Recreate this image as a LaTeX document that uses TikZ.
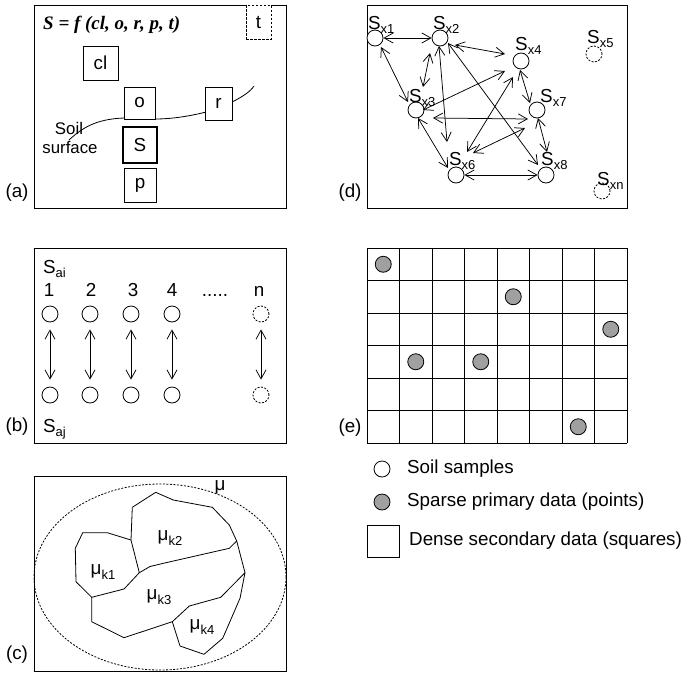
\documentclass[tikz,border=0pt]{standalone}
\usepackage{fontspec}
\setmainfont{Liberation Sans}
\newfontfamily\frmfont{Liberation Serif}
\usetikzlibrary{arrows.meta,calc}
\newcommand{\sbs}[1]{\raisebox{-0.45ex}{\fontsize{13}{13}\selectfont #1}}
\definecolor{dotgray}{RGB}{160,160,160}
\tikzset{
  txt/.style={font=\fontsize{18.8}{21}\selectfont, inner sep=0pt},
  small/.style={font=\fontsize{16.8}{18}\selectfont, inner sep=0pt},
  frame/.style={draw, line width=1pt},
  bx/.style={draw, fill=white, line width=0.9pt, inner sep=0pt, font=\fontsize{18.8}{21}\selectfont},
  smp/.style={circle, draw, fill=white, minimum size=16pt, inner sep=0pt, line width=0.8pt},
  dsmp/.style={smp, dashed, dash pattern=on 2pt off 1.5pt},
  gdot/.style={circle, draw, fill=dotgray, minimum size=16pt, inner sep=0pt, line width=0.8pt},
  dar/.style={{Straight Barb[length=9pt,width=10pt]}-{Straight Barb[length=9pt,width=10pt]}, line width=0.75pt},
  thinl/.style={line width=0.8pt},
}
\begin{document}
\begin{tikzpicture}[x=1pt,y=-1pt]
\useasboundingbox (0,0) rectangle (684,672);

% ---------------- panel (a)
\draw[frame] (34,5) rectangle (286,208);
\node[txt] (la) at (17,193) {(a)};
\node[inner sep=0pt, anchor=west, font=\frmfont\bfseries\itshape\fontsize{19}{21}\selectfont] (frm) at (43,25) {S = f (cl, o, r, p, t)};
\draw[thinl] (69,140) .. controls (85,125) and (100,119) .. (124,118) -- (155,119) .. controls (175,119) and (195,115) .. (210,111) -- (232,102) .. controls (242,97) and (250,92) .. (254,86);
\node[bx, minimum width=25pt, minimum height=34pt, dashed, dash pattern=on 2.5pt off 1.5pt] (t) at (258.5,22) {t};
\node[bx, minimum width=35pt, minimum height=34pt] (cl) at (100.5,63) {cl};
\node[bx, minimum width=31pt, minimum height=32pt] (o) at (139.5,103) {o};
\node[bx, minimum width=27pt, minimum height=33pt] (r) at (218.5,103.5) {r};
\node[bx, minimum width=34pt, minimum height=36pt, line width=2.8pt] (S) at (140,145) {S};
\node[bx, minimum width=32pt, minimum height=34pt] (p) at (140,185) {p};
\node[small] (soil) at (69,128) {Soil};
\node[small] (surf) at (70,147) {surface};

% ---------------- panel (b)
\draw[frame] (34,248) rectangle (286,443);
\node[txt] (lb) at (17,427) {(b)};
\node[txt, anchor=base west] (sai) at (43,273) {S\sbs{ai}};
\node[txt, anchor=base west] (saj) at (43,432) {S\sbs{aj}};
\node[txt, anchor=base] (n1) at (49,296) {1};
\node[txt, anchor=base] (n2) at (91,296) {2};
\node[txt, anchor=base] (n3) at (133,296) {3};
\node[txt, anchor=base] (n4) at (172,296) {4};
\node[txt, anchor=base] (ndots) at (215,296) {.....};
\node[txt, anchor=base] (nn) at (259,296) {n};
\foreach \i/\x in {1/50,2/90,3/131,4/172}{
  \node[smp] (t\i) at (\x,314) {};
  \node[smp] (b\i) at (\x,395) {};
  \draw[dar, shorten <=7pt, shorten >=7pt] (t\i) -- (b\i);
}
\node[dsmp] (tn) at (261,314) {};
\node[dsmp] (bn) at (261,395) {};
\draw[dar, shorten <=7pt, shorten >=7pt] (tn) -- (bn);

% ---------------- panel (c)
\draw[frame] (34,476) rectangle (286,671);
\node[txt] (lc) at (17,655) {(c)};
\draw[thinl, dashed, dash pattern=on 2pt off 1.5pt] (160,577) ellipse [x radius=126pt, y radius=93pt];
\node[txt] (mu) at (220,487) {μ};
\draw[thinl, line join=round] (132.3,507.3) -- (155.7,492.3) -- (173.3,500) -- (212.3,507.3) -- (229.3,525) -- (236.7,541) -- (245,572.7) -- (240,598.3) -- (222.7,638.3) -- (204,654.3) -- (180,646) -- (172.3,621.7) -- (124,637.7) -- (91.7,621.7) -- (91.7,597.3) -- (76,581.7) -- (75.3,548.3) -- (82.7,532.7) -- (107.3,532.7) -- (131,540);
\draw[thinl, line join=round] (132.3,507.3) -- (131,540) -- (139.3,572.7) -- (124,589) -- (91.7,597.3);
\draw[thinl, line join=round] (139.3,572.7) -- (150,566.5) -- (163.3,563.3) -- (229.3,548.3) -- (236.7,541);
\draw[thinl, line join=round] (172.3,621.7) -- (189.3,606) -- (220.7,597.3) -- (245,572.7);
\node[txt] (mk2) at (170,538) {μ\sbs{k2}};
\node[txt] (mk1) at (103,572) {μ\sbs{k1}};
\node[txt] (mk3) at (159,597) {μ\sbs{k3}};
\node[txt] (mk4) at (202,627) {μ\sbs{k4}};

% ---------------- panel (d)
\draw[frame] (367,5) rectangle (627,208);
\node[txt] (ld) at (350,193) {(d)};
\node[smp] (x1) at (375,38) {};
\node[smp] (x2) at (440,38) {};
\node[smp] (x4) at (521,61) {};
\node[dsmp] (x5) at (594,54) {};
\node[smp] (x3) at (416,110) {};
\node[smp] (x7) at (537,110) {};
\node[smp] (x6) at (456,175) {};
\node[smp] (x8) at (546,175) {};
\node[dsmp] (xn) at (602,191) {};
\node[txt, anchor=base west] (lx1) at (368,29) {S\sbs{x1}};
\node[txt, anchor=base west] (lx2) at (433,29) {S\sbs{x2}};
\node[txt, anchor=base west] (lx4) at (515,50) {S\sbs{x4}};
\node[txt, anchor=base west] (lx5) at (587,43) {S\sbs{x5}};
\node[txt, anchor=base west] (lx3) at (409,102) {S\sbs{x3}};
\node[txt, anchor=base west] (lx7) at (540,102) {S\sbs{x7}};
\node[txt, anchor=base west] (lx6) at (449,165) {S\sbs{x6}};
\node[txt, anchor=base west] (lx8) at (541,165) {S\sbs{x8}};
\node[txt, anchor=base west] (lxn) at (597,185) {S\sbs{xn}};
\draw[dar] (x1) -- (x2);
\draw[dar] ($(x1)+(6,9)$) -- ($(x3)+(-8,-8)$);
\draw[dar] ($(x2)+(-10,15)$) -- ($(x3)+(7,-23)$);
\draw[dar] ($(x2)+(15,7)$) -- ($(x4)+(-16,-7)$);
\draw[dar] ($(x2)+(-1,8)$) -- ($(x6)+(-9,-33)$);
\draw[dar] ($(x2)+(8,5)$) -- ($(x8)+(-8,-10)$);
\draw[dar] ($(x3)+(7,0)$) -- ($(x4)+(-16,10)$);
\draw[dar] ($(x3)+(17,8)$) -- ($(x7)+(-9,9)$);
\draw[dar] ($(x3)+(2,8)$) -- ($(x6)+(-8,-7)$);
\draw[dar] ($(x4)+(-8,16)$) -- ($(x6)+(11,-23)$);
\draw[dar] ($(x4)+(-1,9)$) -- ($(x7)+(-7,-7)$);
\draw[dar] ($(x7)+(-12,18)$) -- ($(x6)+(17,-22)$);
\draw[dar] ($(x7)+(1,8)$) -- ($(x8)+(1,-23)$);
\draw[dar] (x6) -- (x8);

% ---------------- panel (e)
\node[txt] (le) at (350,428) {(e)};
\foreach \i in {0,...,8}{ \draw[line width=0.9pt] ({367+32.5*\i},248) -- ({367+32.5*\i},443); }
\foreach \j in {0,...,6}{ \draw[line width=0.9pt] (367,{248+32.5*\j}) -- (627,{248+32.5*\j}); }
\node[gdot] (g1) at (383.25,264.25) {};
\node[gdot] (g2) at (513.25,296.75) {};
\node[gdot] (g3) at (610.75,329.25) {};
\node[gdot] (g4) at (415.75,361.75) {};
\node[gdot] (g5) at (480.75,361.75) {};
\node[gdot] (g6) at (578.25,426.75) {};

% ---------------- legend
\node[smp] (lgw) at (382,469) {};
\node[txt, anchor=west] (lgwt) at (407,469) {Soil samples};
\node[gdot] (lgg) at (382,502) {};
\node[txt, anchor=west] (lggt) at (407,502) {Sparse primary data (points)};
\node[draw, line width=0.9pt, minimum width=32pt, minimum height=32pt, inner sep=0pt] (lgs) at (383,541) {};
\node[txt, anchor=west] (lgst) at (409,541) {Dense secondary data (squares)};
\end{tikzpicture}
\end{document}
